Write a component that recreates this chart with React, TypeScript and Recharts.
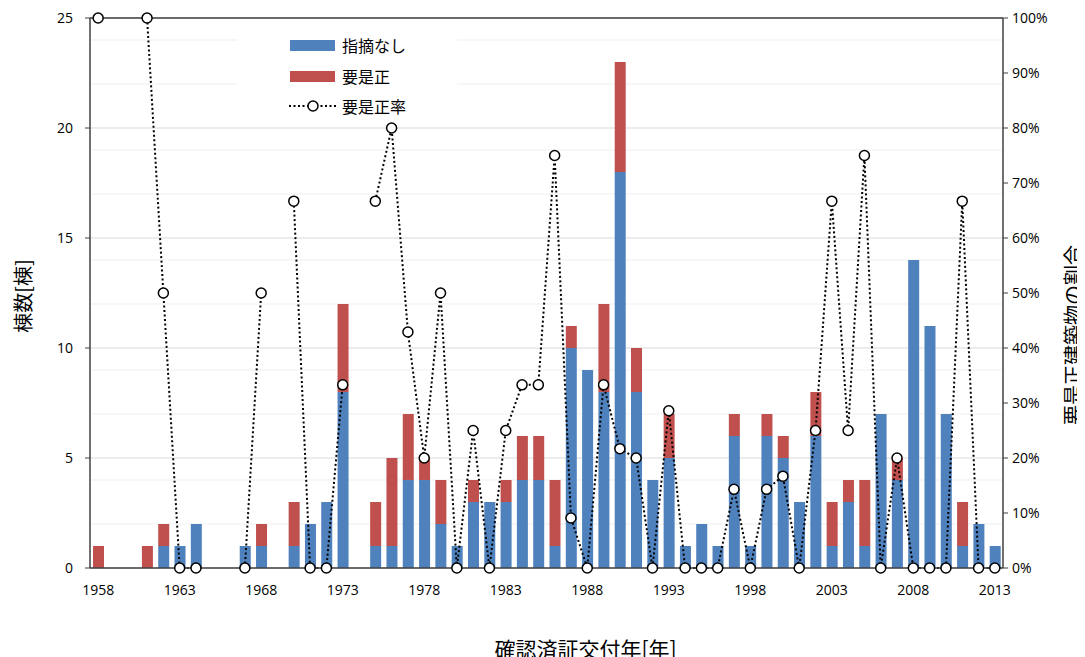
import React from 'react';
import { ComposedChart, Bar, Line, XAxis, YAxis, CartesianGrid, ReferenceLine } from 'recharts';

const years = ['1958','1959','1960','1961','1962','1963','1964','1965','1966','1967','1968','1969','1970','1971','1972','1973','1974','1975','1976','1977','1978','1979','1980','1981','1982','1983','1984','1985','1986','1987','1988','1989','1990','1991','1992','1993','1994','1995','1996','1997','1998','1999','2000','2001','2002','2003','2004','2005','2006','2007','2008','2009','2010','2011','2012','2013'];
const noIssue = [0,0,0,0,1,1,2,0,0,1,1,0,1,2,3,8,0,1,1,4,4,2,1,3,3,3,4,4,1,10,9,8,18,8,4,5,1,2,1,6,1,6,5,3,6,1,3,1,7,4,14,11,7,1,2,1];
const needFix = [1,0,0,1,1,0,0,0,0,0,1,0,2,0,0,4,0,2,4,3,1,2,0,1,0,1,2,2,3,1,0,4,5,2,0,2,0,0,0,1,0,1,1,0,2,2,1,3,0,1,0,0,0,2,0,0];
const fixRate: (number | null)[] = [100,null,null,100,50,0,0,null,null,0,50,null,66.7,0,0,33.3,null,66.7,80,42.9,20,50,0,25,0,25,33.3,33.3,75,9.1,0,33.3,21.7,20,0,28.6,0,0,0,14.3,0,14.3,16.7,0,25,66.7,25,75,0,20,0,0,0,66.7,0,0];

const leftTicks = [0, 5, 10, 15, 20, 25];
const rightTicks = [0, 10, 20, 30, 40, 50, 60, 70, 80, 90, 100];
const minorLines = [1,2,3,4,6,7,8,9,11,12,13,14,16,17,18,19,21,22,23,24];

const xTitle = '確認済証交付年[年]';
const leftTitle = '棟数[棟]';
const rightTitle = '要是正建築物の割合';

const data = years.map((y, i) => ({ year: y, blue: noIssue[i], red: needFix[i], rate: fixRate[i] }));

const NUM_FONT = '"Open Sans", "DejaVu Sans", sans-serif';
const JP_FONT = '"Noto Sans CJK JP", sans-serif';

const VTitle = ({ viewBox, text, dx, dy }: any) => {
  if (!viewBox) return null;
  const cx = viewBox.x + dx;
  const cy = viewBox.y + viewBox.height / 2 + dy;
  return (
    <text x={cx} y={cy} transform={`rotate(-90, ${cx}, ${cy})`} textAnchor="middle" dominantBaseline="central"
      fontFamily={JP_FONT} fontSize={20} fill="#000">{text}</text>
  );
};

const HTitle = ({ viewBox, text, dx, dy }: any) => {
  if (!viewBox) return null;
  const cx = viewBox.x + viewBox.width / 2 + dx;
  const cy = viewBox.y + dy;
  return (
    <text x={cx} y={cy} textAnchor="middle" dominantBaseline="central"
      fontFamily={JP_FONT} fontSize={21} fill="#000">{text}</text>
  );
};

const LegendBox = () => (
  <div style={{ background: '#fff', width: 220, height: 100, position: 'absolute', left: 229, top: 12, fontFamily: JP_FONT, fontSize: 16, color: '#000' }}>
    <div style={{ position: 'absolute', left: 53, top: 20, width: 45, height: 11, background: '#4F81BD' }} />
    <div style={{ position: 'absolute', left: 105, top: 13, lineHeight: '24px' }}>指摘なし</div>
    <div style={{ position: 'absolute', left: 53, top: 51, width: 45, height: 11, background: '#C0504D' }} />
    <div style={{ position: 'absolute', left: 105, top: 44, lineHeight: '24px' }}>要是正</div>
    <svg style={{ position: 'absolute', left: 50, top: 78 }} width={52} height={16}>
      <line x1={2} y1={8} x2={50} y2={8} stroke="#000" strokeWidth={2} strokeDasharray="2 2.5" />
      <circle cx={26} cy={8} r={5} fill="#fff" stroke="#000" strokeWidth={1.5} />
    </svg>
    <div style={{ position: 'absolute', left: 105, top: 74, lineHeight: '24px' }}>要是正率</div>
  </div>
);

export default function App() {
  return (
    <div style={{ position: 'relative', width: 1077, height: 649 }}>
      <ComposedChart width={1077} height={649} data={data} margin={{ top: 10, right: 20, left: 20, bottom: 0 }} barSize={11} barGap={0}>
        <CartesianGrid yAxisId="left" vertical={false} horizontalValues={minorLines} stroke="#efefef" strokeWidth={1} />
        <CartesianGrid yAxisId="left" vertical={false} horizontalValues={leftTicks} stroke="#d9d9d9" strokeWidth={1.2} />
        <XAxis dataKey="year" interval={4} tickLine={false} axisLine={{ stroke: '#404040', strokeWidth: 1.5 }} height={89}
          tick={{ fontFamily: NUM_FONT, fontSize: 14, fill: '#000' }} tickMargin={11}
          label={<HTitle text={xTitle} dx={39} dy={80} />} />
        <YAxis yAxisId="left" domain={[0, 25]} ticks={leftTicks} width={62} tickSize={5}
          axisLine={{ stroke: '#404040', strokeWidth: 1.5 }} tickLine={{ stroke: '#404040' }}
          tick={{ fontFamily: NUM_FONT, fontSize: 14, fill: '#000' }} tickMargin={12}
          label={<VTitle text={leftTitle} dx={-6} dy={3} />} />
        <YAxis yAxisId="right" orientation="right" domain={[0, 100]} ticks={rightTicks} width={62} tickSize={5}
          tickFormatter={(v) => `${v}%`}
          axisLine={{ stroke: '#404040', strokeWidth: 1.5 }} tickLine={{ stroke: '#404040' }}
          tick={{ fontFamily: NUM_FONT, fontSize: 14, fill: '#000' }} tickMargin={4}
          label={<VTitle text={rightTitle} dx={69} dy={42} />} />
        <ReferenceLine yAxisId="left" y={25} stroke="#404040" strokeWidth={1.5} />
        <Bar yAxisId="left" dataKey="blue" stackId="a" fill="#4F81BD" isAnimationActive={false} />
        <Bar yAxisId="left" dataKey="red" stackId="a" fill="#C0504D" isAnimationActive={false} />
        <Line yAxisId="right" dataKey="rate" stroke="#000" strokeWidth={2} strokeDasharray="2 2.5"
          dot={{ r: 5, fill: '#fff', stroke: '#000', strokeWidth: 1.5, strokeDasharray: '' }}
          activeDot={false} connectNulls={false} isAnimationActive={false} />
      </ComposedChart>
      <LegendBox />
    </div>
  );
}
